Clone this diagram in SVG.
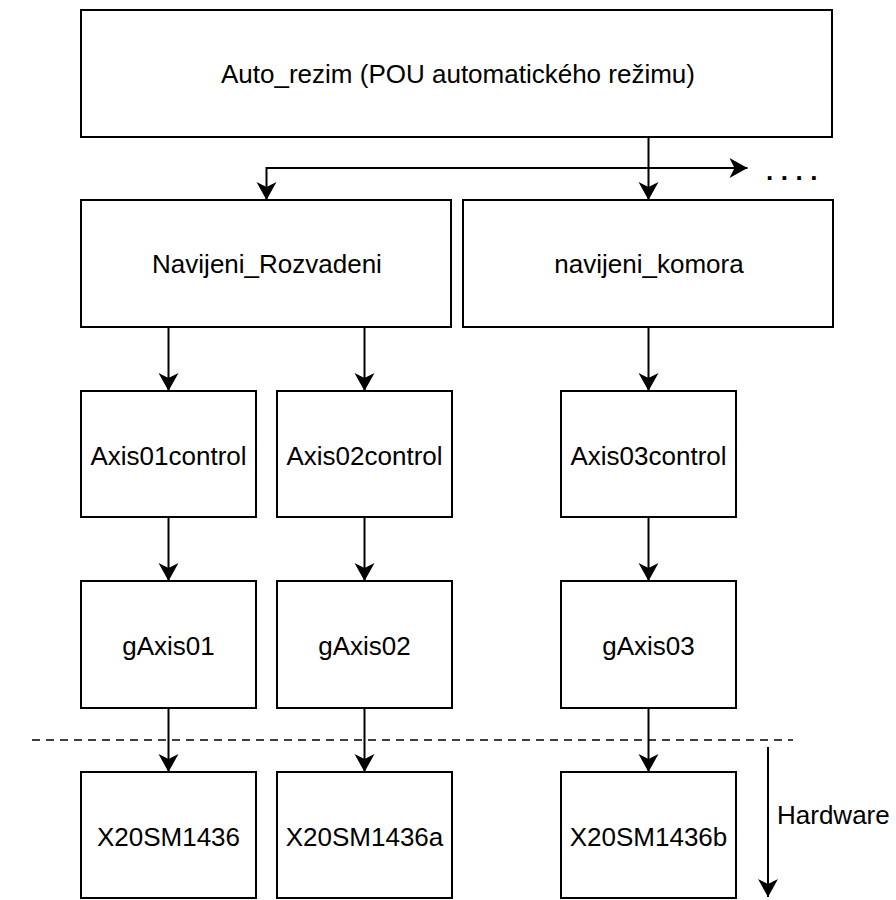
<svg xmlns="http://www.w3.org/2000/svg" width="896" height="900" viewBox="0 0 896 900">
  <style>
    .box { fill: #ffffff; stroke: #000000; stroke-width: 2; }
    .lbl { font-family: "Liberation Sans", Arial, sans-serif; font-size: 26px; fill: #000000; text-anchor: middle; }
    .edge { fill: none; stroke: #000000; stroke-width: 2; }
    .dash { fill: none; stroke: #000000; stroke-width: 1.5; stroke-dasharray: 8 6; }
  </style>
  <defs>
    <marker id="arrow" markerUnits="userSpaceOnUse" viewBox="-20 -11 21 22" refX="0" refY="0" markerWidth="21" markerHeight="22" orient="auto">
      <path d="M-18,-10 L0,0 L-18,10 L-13,0 Z" fill="#000000"/>
    </marker>
  </defs>
  <rect width="896" height="900" fill="#ffffff"/>

  <g id="auto_rezim">
    <rect class="box" x="81" y="10" width="751" height="127"/>
    <text class="lbl" x="458" y="83">Auto_rezim (POU automatického režimu)</text>
  </g>
  <g id="navijeni_rozvadeni">
    <rect class="box" x="81" y="200" width="370" height="127"/>
    <text class="lbl" x="267" y="273">Navijeni_Rozvadeni</text>
  </g>
  <g id="navijeni_komora">
    <rect class="box" x="463" y="200" width="370" height="127"/>
    <text class="lbl" x="649" y="273">navijeni_komora</text>
  </g>
  <g id="axis01control">
    <rect class="box" x="81" y="391" width="175" height="126"/>
    <text class="lbl" x="168.5" y="464.5">Axis01control</text>
  </g>
  <g id="axis02control">
    <rect class="box" x="277" y="391" width="175" height="126"/>
    <text class="lbl" x="364.5" y="464.5">Axis02control</text>
  </g>
  <g id="axis03control">
    <rect class="box" x="561" y="391" width="175" height="126"/>
    <text class="lbl" x="648.5" y="464.5">Axis03control</text>
  </g>
  <g id="gaxis01">
    <rect class="box" x="81" y="581" width="175" height="127"/>
    <text class="lbl" x="168.5" y="654.5">gAxis01</text>
  </g>
  <g id="gaxis02">
    <rect class="box" x="277" y="581" width="175" height="127"/>
    <text class="lbl" x="364.5" y="654.5">gAxis02</text>
  </g>
  <g id="gaxis03">
    <rect class="box" x="561" y="581" width="175" height="127"/>
    <text class="lbl" x="648.5" y="654.5">gAxis03</text>
  </g>
  <g id="x20sm1436">
    <rect class="box" x="81" y="772" width="175" height="126"/>
    <text class="lbl" x="168.5" y="846">X20SM1436</text>
  </g>
  <g id="x20sm1436a">
    <rect class="box" x="277" y="772" width="175" height="126"/>
    <text class="lbl" x="364.5" y="846">X20SM1436a</text>
  </g>
  <g id="x20sm1436b">
    <rect class="box" x="561" y="772" width="175" height="126"/>
    <text class="lbl" x="648.5" y="846">X20SM1436b</text>
  </g>

  <g id="connectors">
    <path class="edge" d="M458,137 H648.5 V200" marker-end="url(#arrow)"/>
    <path class="edge" d="M648.5,168 H266.5 V200" marker-end="url(#arrow)"/>
    <path class="edge" d="M648.5,168 H747.5" marker-end="url(#arrow)"/>
    <path class="edge" d="M168.5,327 V391" marker-end="url(#arrow)"/>
    <path class="edge" d="M364.5,327 V391" marker-end="url(#arrow)"/>
    <path class="edge" d="M648.5,327 V391" marker-end="url(#arrow)"/>
    <path class="edge" d="M168.5,517 V581" marker-end="url(#arrow)"/>
    <path class="edge" d="M364.5,517 V581" marker-end="url(#arrow)"/>
    <path class="edge" d="M648.5,517 V581" marker-end="url(#arrow)"/>
    <path class="edge" d="M168.5,708 V772" marker-end="url(#arrow)"/>
    <path class="edge" d="M364.5,708 V772" marker-end="url(#arrow)"/>
    <path class="edge" d="M648.5,708 V772" marker-end="url(#arrow)"/>
    <path class="edge" d="M768,747 V897" marker-end="url(#arrow)"/>
  </g>

  <g id="hardware_boundary">
    <path class="dash" d="M32,740 H793"/>
    <text x="777" y="824" style="font-family: 'Liberation Sans', Arial, sans-serif; font-size: 26px; fill: #000000;">Hardware</text>
  </g>
  <text x="766" y="180" style="font-family: 'Liberation Sans', Arial, sans-serif; font-size: 26px; font-weight: bold; letter-spacing: 7.5px; fill: #000000;">....</text>
</svg>
